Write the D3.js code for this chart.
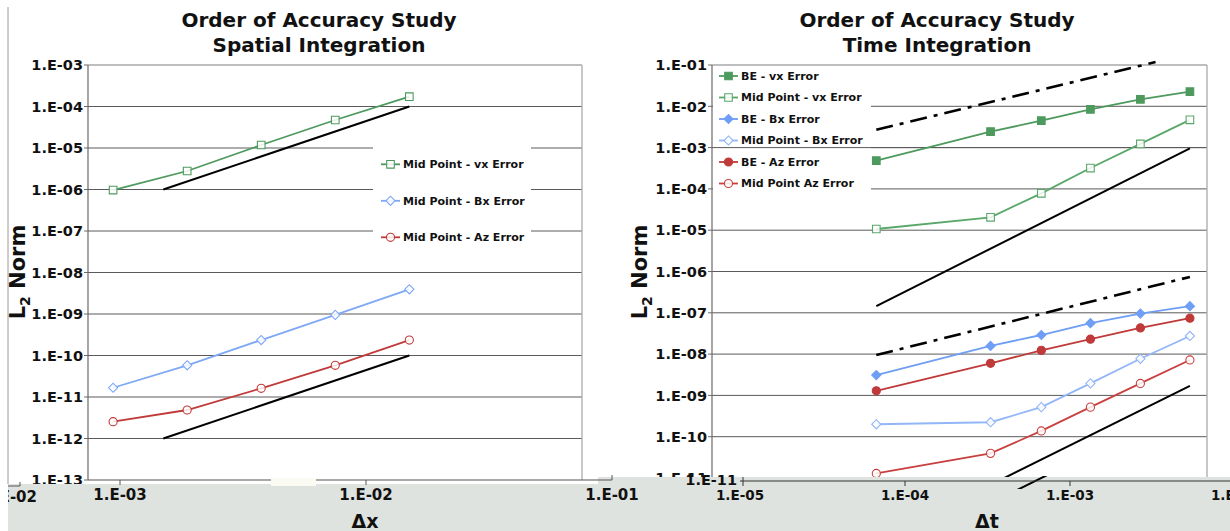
<!DOCTYPE html>
<html><head><meta charset="utf-8">
<script src="https://cdn.jsdelivr.net/npm/d3@7"></script>
<style>
body{margin:0;background:#fff;}
text{font-family:"DejaVu Sans",Verdana,sans-serif;font-weight:bold;fill:#111;}
</style>
</head><body><script>
// ---------------- DATA ----------------
// Spatial integration (left chart)
const spatialDx = [9.375e-4, 1.875e-3, 3.75e-3, 7.5e-3, 1.5e-2];
const spatialMidVx = [9.7e-7, 2.79e-6, 1.18e-5, 4.73e-5, 1.72e-4];
const spatialMidBx = [1.67e-11, 5.8e-11, 2.36e-10, 9.5e-10, 3.94e-9];
const spatialMidAz = [2.54e-12, 4.86e-12, 1.62e-11, 5.8e-11, 2.36e-10];
const spatialRefUpper = [[1.5e-3, 1e-6], [1.5e-2, 1e-4]];
const spatialRefLower = [[1.5e-3, 1e-12], [1.5e-2, 1e-10]];
const spatialYTicks = [1e-3,1e-4,1e-5,1e-6,1e-7,1e-8,1e-9,1e-10,1e-11,1e-12,1e-13];
const spatialXTicks = [1e-3, 1e-2, 1e-1];
const spatialLegend = ["Mid Point - vx Error", "Mid Point - Bx Error", "Mid Point - Az Error"];

// Time integration (right chart)
const timeDt = [6.7e-5, 3.3e-4, 6.7e-4, 1.33e-3, 2.67e-3, 5.33e-3];
const timeBeVx = [4.82e-4, 2.43e-3, 4.48e-3, 8.45e-3, 1.48e-2, 2.26e-2];
const timeMidVx = [1.07e-5, 2.05e-5, 7.8e-5, 3.2e-4, 1.23e-3, 4.7e-3];
const timeBeBx = [3.1e-9, 1.58e-8, 2.9e-8, 5.6e-8, 9.6e-8, 1.45e-7];
const timeMidBx = [2.0e-10, 2.24e-10, 5.2e-10, 1.95e-9, 7.7e-9, 2.75e-8];
const timeBeAz = [1.29e-9, 6.0e-9, 1.23e-8, 2.3e-8, 4.3e-8, 7.4e-8];
const timeMidAz = [1.29e-11, 3.95e-11, 1.38e-10, 5.2e-10, 1.95e-9, 7.2e-9];
const timeRefSecondUpper = [[6.7e-5, 1.45e-7], [5.33e-3, 9.6e-4]];
const timeRefSecondLower = [[6.7e-5, 2.9e-13], [5.33e-3, 1.7e-9]];
const timeRefFirstUpper = [[6.7e-5, 2.7e-3], [3.3e-3, 0.118]];
const timeRefFirstLower = [[6.7e-5, 9.5e-9], [5.33e-3, 7.4e-7]];
const timeYTicks = [1e-1,1e-2,1e-3,1e-4,1e-5,1e-6,1e-7,1e-8,1e-9,1e-10,1e-11];
const timeXTicks = [1e-5, 1e-4, 1e-3, 1e-2];
const timeGridOverLegend = [1e-3];
const timeLegend = ["BE - vx Error","Mid Point - vx Error","BE - Bx Error","Mid Point - Bx Error","BE - Az Error","Mid Point Az Error"];

// ---------------- SETUP ----------------
const W = 1230, H = 531;
const GREEN = "#4e9a5e", BLUE = "#6f9ef5", MBLUE = "#7ea8f6", LBLUE = "#92b6f7", RED = "#c03a3a";
const fmtE = d => "1.E-" + String(Math.round(-Math.log10(d))).padStart(2, "0");
const svg = d3.select("body").append("svg").attr("width", W).attr("height", H);
svg.append("rect").attr("width", W).attr("height", H).attr("fill", "#fff");
const defs = svg.append("defs");

const symbolPath = {
  square: d3.symbol().type(d3.symbolSquare).size(58)(),
  diamond: d3.symbol().type(d3.symbolSquare).size(42)(),
  circle: d3.symbol().type(d3.symbolCircle).size(52)()
};
function marker(g, shape, filled, color, x, y) {
  g.append("path").attr("d", symbolPath[shape])
    .attr("transform", `translate(${x},${y})` + (shape === "diamond" ? " rotate(45)" : ""))
    .attr("fill", filled ? color : "#fff").attr("fill-opacity", filled ? 1 : 0.85)
    .attr("stroke", color).attr("stroke-width", 1.1);
}

function chart(cfg) {
  const {x, y, x0, x1, y0, y1, yTicks, series, refs, legend, legendBox, legendX, legendY0, legendDy, title, titleCx, yTitleX, id, gridOver} = cfg;
  const g = svg.append("g");
  const grid = g.append("g");
  yTicks.forEach((t, i) => {
    if (i === yTicks.length - 1) return;
    grid.append("line").attr("x1", x0).attr("x2", x1).attr("y1", y(t)).attr("y2", y(t))
      .attr("stroke", i === 0 ? "#a8a8a8" : "#5a5a5a").attr("stroke-width", i === 0 ? 1.4 : 1);
  });
  g.append("rect").attr("x", legendBox[0]).attr("y", legendBox[1]).attr("width", legendBox[2]).attr("height", legendBox[3]).attr("fill", "#fff");
  (gridOver || []).forEach(t => {
    g.append("line").attr("x1", x0).attr("x2", x1).attr("y1", y(t)).attr("y2", y(t)).attr("stroke", "#5a5a5a");
  });
  g.append("line").attr("x1", x1).attr("x2", x1).attr("y1", y0).attr("y2", y1).attr("stroke", "#b0b0b0").attr("stroke-width", 1.4);
  g.append("line").attr("x1", x0).attr("x2", x0).attr("y1", y0).attr("y2", y1).attr("stroke", "#6a6a6a").attr("stroke-width", 1.2);
  yTicks.forEach(t => {
    g.append("line").attr("x1", x0 - 4).attr("x2", x0).attr("y1", y(t)).attr("y2", y(t)).attr("stroke", "#6a6a6a");
    g.append("text").attr("x", x0 - 5).attr("y", y(t)).attr("dy", "0.36em").attr("text-anchor", "end")
      .attr("font-size", "14.5px").text(fmtE(t));
  });
  defs.append("clipPath").attr("id", id).append("rect").attr("x", x0).attr("y", y0 - 10).attr("width", x1 - x0).attr("height", y1 - y0 + 10);
  const pg = g.append("g").attr("clip-path", `url(#${id})`);
  const line = d3.line().x(d => x(d[0])).y(d => y(d[1]));
  refs.forEach(r => {
    pg.append("path").attr("d", line(r.data)).attr("fill", "none").attr("stroke", "#000")
      .attr("stroke-width", r.dash ? 2.6 : 2).attr("stroke-dasharray", r.dash ? "17,7,4,7" : null);
  });
  series.forEach(s => {
    const pts = s.xs.map((xv, i) => [xv, s.ys[i]]);
    pg.append("path").attr("d", line(pts)).attr("fill", "none").attr("stroke", s.color).attr("stroke-width", 1.8);
    pts.forEach(p => marker(pg, s.shape, s.filled, s.color, x(p[0]), y(p[1])));
  });
  legend.forEach((name, i) => {
    const s = series[i];
    const ly = legendY0 + i * legendDy;
    g.append("line").attr("x1", legendX).attr("x2", legendX + 19).attr("y1", ly).attr("y2", ly).attr("stroke", s.color).attr("stroke-width", 1.8);
    marker(g, s.shape, s.filled, s.color, legendX + 9.5, ly);
    g.append("text").attr("x", legendX + 22).attr("y", ly).attr("dy", "0.36em").attr("font-size", "11px").text(name);
  });
  title.forEach((t, i) => {
    g.append("text").attr("x", titleCx).attr("y", 27 + i * 25)
      .attr("text-anchor", "middle").attr("font-size", "20px").text(t);
  });
  const yt = g.append("text").attr("transform", `translate(${yTitleX},272) rotate(-90)`)
    .attr("text-anchor", "middle").attr("dy", "0.36em").attr("font-size", "21px");
  yt.append("tspan").text("L");
  yt.append("tspan").attr("font-size", "14px").attr("dy", "5").text("2");
  yt.append("tspan").attr("dy", "-5").text(" Norm");
}

// ---------------- LEFT CHART ----------------
const xL = d3.scaleLog().domain([1e-3, 1e-1]).range([120, 612]);
const yL = d3.scaleLog().domain([1e-13, 1e-3]).range([480, 65]);
svg.append("line").attr("x1", 8).attr("x2", 8).attr("y1", 7).attr("y2", 484).attr("stroke", "#9a9a9a");
chart({
  id: "clipL", x: xL, y: yL, x0: 88, x1: 582, y0: 65, y1: 480, yTicks: spatialYTicks,
  series: [
    {xs: spatialDx, ys: spatialMidVx, color: GREEN, shape: "square", filled: false},
    {xs: spatialDx, ys: spatialMidBx, color: MBLUE, shape: "diamond", filled: false},
    {xs: spatialDx, ys: spatialMidAz, color: RED, shape: "circle", filled: false}
  ],
  refs: [{data: spatialRefUpper}, {data: spatialRefLower}],
  legend: spatialLegend, legendBox: [373, 128, 158, 126], legendX: 381, legendY0: 164.3, legendDy: 36.5,
  title: ["Order of Accuracy Study", "Spatial Integration"], titleCx: 319, yTitleX: 17
});

// ---------------- RIGHT CHART ----------------
const xR = d3.scaleLog().domain([1e-5, 1e-2]).range([740, 1235]);
const yR = d3.scaleLog().domain([1e-11, 1e-1]).range([478, 65]);
chart({
  id: "clipR", x: xR, y: yR, x0: 712, x1: 1207, y0: 65, y1: 478, yTicks: timeYTicks,
  series: [
    {xs: timeDt, ys: timeBeVx, color: GREEN, shape: "square", filled: true},
    {xs: timeDt, ys: timeMidVx, color: "#5aa76a", shape: "square", filled: false},
    {xs: timeDt, ys: timeBeBx, color: BLUE, shape: "diamond", filled: true},
    {xs: timeDt, ys: timeMidBx, color: LBLUE, shape: "diamond", filled: false},
    {xs: timeDt, ys: timeBeAz, color: RED, shape: "circle", filled: true},
    {xs: timeDt, ys: timeMidAz, color: "#c8403f", shape: "circle", filled: false}
  ],
  refs: [{data: timeRefSecondUpper}, {data: timeRefSecondLower}, {data: timeRefFirstUpper, dash: true}, {data: timeRefFirstLower, dash: true}],
  legend: timeLegend, legendBox: [713, 67, 158, 126], legendX: 719, legendY0: 76, legendDy: 21.5,
  title: ["Order of Accuracy Study", "Time Integration"], titleCx: 937, yTitleX: 639, gridOver: timeGridOverLegend
});

// ---------------- BOTTOM STRIPS (x axes) ----------------
const STRIP = "#dfe3df";
svg.append("rect").attr("x", 598).attr("y", 477).attr("width", W - 598).attr("height", H - 477).attr("fill", STRIP);
svg.append("rect").attr("x", 8).attr("y", 484).attr("width", 604).attr("height", H - 484).attr("fill", STRIP);

defs.append("clipPath").attr("id", "clipStrip").append("rect").attr("x", 1015).attr("y", 476).attr("width", 40).attr("height", 13);
svg.append("path").attr("clip-path", "url(#clipStrip)")
  .attr("d", d3.line().x(d => xR(d[0]) + 37).y(d => yR(d[1]))(timeRefSecondLower))
  .attr("fill", "none").attr("stroke", "#000").attr("stroke-width", 2);

// left x axis
const axL = svg.append("g");
axL.append("line").attr("x1", 88).attr("x2", xL(1e-1)).attr("y1", 480).attr("y2", 480).attr("stroke", "#555").attr("stroke-width", 1.2);
spatialXTicks.forEach((t, i) => {
  const last = i === spatialXTicks.length - 1;
  axL.append("line").attr("x1", xL(t)).attr("x2", xL(t)).attr("y1", last ? 475 : 480).attr("y2", last ? 480 : 485).attr("stroke", "#555");
  axL.append("text").attr("x", xL(t)).attr("y", 495).attr("dy", "0.36em").attr("text-anchor", "middle").attr("font-size", "15px").text(fmtE(t));
});
svg.append("rect").attr("x", 271).attr("y", 478).attr("width", 45).attr("height", 8).attr("fill", "#fbfbf4");
defs.append("clipPath").attr("id", "clipFrag").append("rect").attr("x", 8).attr("y", 480).attr("width", 31).attr("height", 30);
svg.append("line").attr("x1", 8).attr("x2", 20).attr("y1", 486).attr("y2", 486).attr("stroke", "#555");
svg.append("line").attr("x1", 20).attr("x2", 20).attr("y1", 482).attr("y2", 486).attr("stroke", "#555");
svg.append("text").attr("clip-path", "url(#clipFrag)").attr("x", 37).attr("y", 497).attr("dy", "0.36em").attr("text-anchor", "end").attr("font-size", "15px").text(fmtE(1e-2));
svg.append("text").attr("x", 365).attr("y", 521).attr("dy", "0.36em").attr("text-anchor", "middle").attr("font-size", "19px").text("Δx");

// right x axis
const axR = svg.append("g");
axR.append("line").attr("x1", xR(1e-5)).attr("x2", W).attr("y1", 481).attr("y2", 481).attr("stroke", "#333").attr("stroke-width", 1.2);
axR.append("line").attr("x1", xR(1e-5) + 3).attr("x2", xR(1e-5) + 3).attr("y1", 477).attr("y2", 486).attr("stroke", "#333");
axR.append("text").attr("x", 737).attr("y", 480).attr("dy", "0.36em").attr("text-anchor", "end").attr("font-size", "14.5px").text(fmtE(1e-11));
timeXTicks.forEach((t, i) => {
  if (i > 0) axR.append("line").attr("x1", xR(t)).attr("x2", xR(t)).attr("y1", 481).attr("y2", 486).attr("stroke", "#333");
  axR.append("text").attr("x", xR(t)).attr("y", 495).attr("dy", "0.36em").attr("text-anchor", "middle").attr("font-size", "13.5px").text(fmtE(t));
});
svg.append("text").attr("x", 987).attr("y", 521).attr("dy", "0.36em").attr("text-anchor", "middle").attr("font-size", "19px").text("Δt");
</script></body></html>
